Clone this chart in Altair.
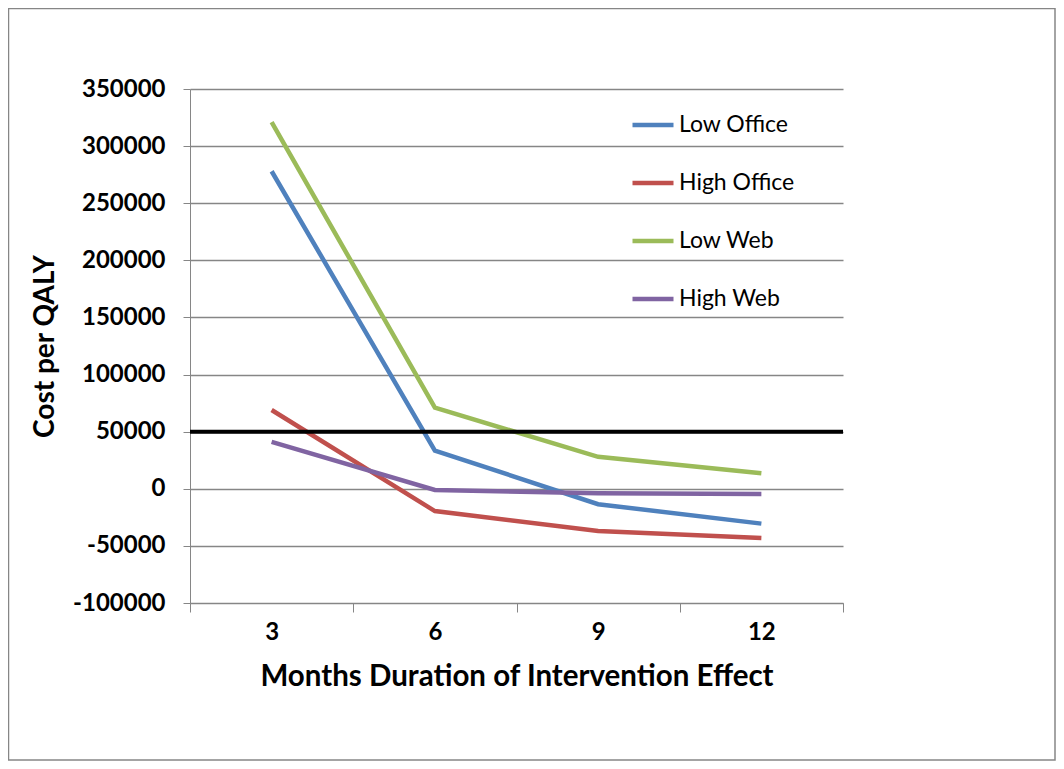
import altair as alt
import pandas as pd

months = ["3", "6", "9", "12"]
series = ["Low Office", "High Office", "Low Web", "High Web"]
colors = ["#4F81BD", "#C0504D", "#9BBB59", "#8064A2"]
low_office = [278000, 33500, -13500, -30500]
high_office = [69000, -19500, -37000, -43000]
low_web = [321000, 71000, 28000, 13500]
high_web = [41000, -1000, -4000, -4500]
threshold = [50000]

rows = []
for name, vals in zip(series, [low_office, high_office, low_web, high_web]):
    for m, v in zip(months, vals):
        rows.append({"month": m, "series": name, "cost": v, "order": series.index(name)})
df = pd.DataFrame(rows)

W, H = 653, 514
grid = "#868686"

x_enc = alt.X(
    "month:O",
    sort=months,
    bandPosition=0.5,
    scale=alt.Scale(type="band", paddingInner=0, paddingOuter=0),
    axis=alt.Axis(
        title="Months Duration of Intervention Effect",
        tickBand="extent",
        grid=False,
        labelAngle=0,
        tickSize=9,
        tickColor=grid,
        domainColor=grid,
        labelFontSize=24,
        labelFontWeight="bold",
        labelColor="black",
        labelPadding=8,
        titleFontSize=29.5,
        titleFontWeight="bold",
        titleColor="black",
        titlePadding=18,
    ),
)
y_enc = alt.Y(
    "cost:Q",
    scale=alt.Scale(domain=[-100000, 350000], nice=False),
    axis=alt.Axis(
        title="Cost per QALY",
        values=list(range(-100000, 350001, 50000)),
        labelExpr="datum.value + ''",
        tickSize=7,
        tickColor=grid,
        gridColor=grid,
        gridWidth=1.5,
        domainColor=grid,
        labelFontSize=24,
        labelFontWeight="bold",
        labelColor="black",
        labelPadding=18,
        titleFontSize=28,
        titleFontWeight="bold",
        titleColor="black",
        titleX=-131,
        titleY=H / 2,
    ),
)

lines = alt.Chart(df).mark_line(strokeWidth=4.5).encode(
    x=x_enc,
    y=y_enc,
    color=alt.Color(
        "series:N",
        sort=series,
        scale=alt.Scale(domain=series, range=colors),
        legend=alt.Legend(
            title=None,
            orient="none",
            legendX=440,
            legendY=13,
            symbolType="stroke",
            symbolSize=1681,
            symbolStrokeWidth=4.5,
            labelFontSize=23,
            labelColor="black",
            labelOffset=3,
            rowPadding=23,
            padding=0,
        ),
    ),
    order="order:Q",
)

rule = alt.Chart(pd.DataFrame({"t": threshold})).mark_rule(
    color="black", strokeWidth=4
).encode(y="t:Q", x=alt.value(0), x2=alt.value(W))

border = alt.Chart(pd.DataFrame({"a": [0]})).mark_rect(
    fill=None, stroke=grid, strokeWidth=1.5
).encode(
    x=alt.value(-181.5),
    x2=alt.value(W + 212),
    y=alt.value(-80.5),
    y2=alt.value(H + 157),
)

chart = (
    alt.layer(lines, rule, border)
    .properties(
        width=W,
        height=H,
        autosize=alt.AutoSizeParams(type="none"),
        padding={"left": 182, "top": 81, "right": 213, "bottom": 158},
    )
    .configure(font="Lato")
    .configure_view(stroke=None)
)

chart.save("out.html", embed_options={"renderer": "svg", "actions": False})
